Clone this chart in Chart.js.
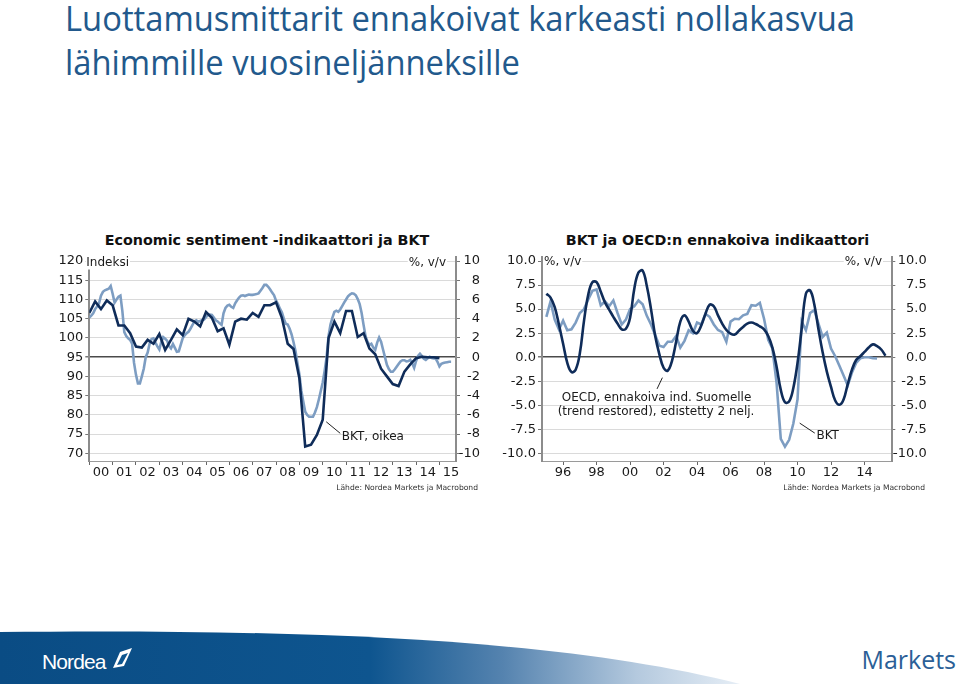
<!DOCTYPE html>
<html>
<head>
<meta charset="utf-8">
<script src="https://cdn.jsdelivr.net/npm/chart.js@4.4.1/dist/chart.umd.min.js"></script>
<style>
  body { margin:0; width:960px; height:684px; position:relative; background:#fff; overflow:hidden; font-family:"DejaVu Sans", sans-serif; }
  #title { position:absolute; left:65px; top:-4px; font-family:"Open Sans", sans-serif; font-size:34px; line-height:44px; color:#22598c; transform-origin:0 0; white-space:nowrap; }
  #title span { display:inline-block; }
  .ctitle { position:absolute; top:231px; font-weight:bold; font-size:14.3px; line-height:18px; color:#111; text-align:center; }
  .src { position:absolute; top:483px; font-size:7.6px; color:#333; white-space:nowrap; }
  canvas { position:absolute; top:225px; }
  #foot { position:absolute; left:0; top:628px; }
  #markets { position:absolute; right:4px; top:642px; font-family:"Open Sans", sans-serif; font-size:25px; color:#2b5f97; }
</style>
</head>
<body>
<div id="title"><span id="t1">Luottamusmittarit ennakoivat karkeasti nollakasvua</span><br><span>lähimmille vuosineljänneksille</span></div>

<div class="ctitle" style="left:40px;width:454px">Economic sentiment -indikaattori ja BKT</div>
<canvas id="c1" width="450" height="275" style="left:40px"></canvas>
<div class="src" style="right:482px">Lähde: Nordea Markets ja Macrobond</div>

<div class="ctitle" style="left:495px;width:445px">BKT ja OECD:n ennakoiva indikaattori</div>
<canvas id="c2" width="445" height="275" style="left:495px"></canvas>
<div class="src" style="right:35px">Lähde: Nordea Markets ja Macrobond</div>

<svg id="foot" width="960" height="56">
  <defs>
    <linearGradient id="band" x1="0" x2="1" y1="0" y2="0">
      <stop offset="0" stop-color="#0a4c84"/>
      <stop offset="0.5" stop-color="#0e558f"/>
      <stop offset="0.68" stop-color="#5583af"/>
      <stop offset="0.86" stop-color="#b4c9de"/>
      <stop offset="1" stop-color="#e6eef6"/>
    </linearGradient>
  </defs>
  <path d="M0,4 C300,1 560,10 740,56 L0,56 Z" fill="url(#band)"/>
  <text x="42" y="41" font-family="Liberation Sans" font-size="21" fill="#fff" letter-spacing="-0.9">Nordea</text>
  <path d="M113,40 L120,24 L132,20 L124,38 Z" fill="#fff"/>
  <path d="M117,37 L122,27 L128,25 L122,36 Z" fill="#0e558f"/>
</svg>
<div id="markets">Markets</div>

<script>
// Economic sentiment (indeksi), kuukausittain 2000/01 - 2015/07
const esiValues = [
  105.3,105.8,106.4,107.5,108.2,109.0,111.0,112.0,112.4,112.6,112.8,113.5,
  111.5,109.2,110.0,110.7,111.0,107.0,101.5,100.5,99.9,99.5,98.5,93.5,
  90.4,88.2,88.2,90.0,92.0,95.0,96.2,98.5,99.7,99.9,98.8,97.8,
  97.0,99.0,100.2,99.8,99.3,97.9,97.3,98.4,97.4,96.4,96.5,98.2,
  99.9,100.7,101.2,101.6,102.4,103.3,104.3,104.6,104.2,104.4,104.7,104.8,
  105.4,106.0,106.1,106.0,105.3,104.6,104.3,103.8,103.4,106.4,107.8,108.4,
  108.6,108.1,107.8,109.0,109.8,110.5,111.0,111.1,110.9,111.1,111.3,111.2,
  111.2,111.3,111.4,111.6,112.3,113.0,113.8,113.8,113.3,112.6,111.8,111.1,
  109.7,108.8,107.6,106.7,105.0,103.7,103.5,102.4,100.9,98.9,96.6,93.5,
  90.6,86.3,83.5,80.8,80.0,79.5,79.5,79.5,80.6,82.0,84.0,86.2,
  88.4,91.5,95.0,100.5,103.5,105.3,106.8,107.1,106.8,107.4,108.3,109.2,
  110.0,110.8,111.3,111.6,111.5,111.1,110.1,108.8,106.5,103.4,100.5,99.0,
  98.2,98.5,97.5,96.9,98.8,100.1,99.0,97.0,95.0,93.0,91.9,91.2,
  91.2,91.8,92.5,93.2,93.9,94.2,94.2,93.9,94.0,94.3,93.4,92.2,
  94.0,95.3,95.9,95.3,94.6,94.3,94.7,95.1,94.8,94.7,94.7,93.8,
  92.6,93.3,93.5,93.6,93.7,93.8,93.8
];
const esiStartYear = 2000;

// BKT %, v/v (oikea akseli), neljännesvuosittain 2000Q1 - 2015Q1
const bkt1Values = [
  4.6,5.8,5.0,5.9, 5.4,3.3,3.3,2.5, 1.1,1.0,1.8,1.4, 2.4,0.75,1.8,2.9,
  2.3,4.0,3.7,3.2, 4.7,4.1,2.7,3.0, 1.3,3.7,4.0,3.9, 4.6,4.2,5.4,5.4,
  5.7,4.1,1.4,0.85, -2.2,-9.3,-9.1,-8.1, -6.5,2.0,3.7,2.5, 4.8,4.8,2.1,2.5,
  0.9,0.3,-1.2,-2.0, -2.8,-3.0,-1.5,-0.75, -0.1,0.05,0.0,0.0, -0.1
];
const bkt1StartYear = 2000;

// OECD ennakoiva indikaattori (edistetty 2 nelj.), 1995Q1 - 2015Q2
const oecdValues = [
  6.6,6.2,5.2,3.4, 1.4,-0.6,-1.55,-1.3, 0.4,3.8,6.5,7.8, 7.8,6.8,5.7,4.95,
  4.2,3.5,2.9,2.95, 4.1,7.1,8.8,9.0, 7.4,5.0,2.2,0.3, -1.1,-1.4,-0.4,1.6,
  3.7,4.35,3.7,2.75, 2.5,3.3,4.5,5.45, 5.3,4.35,3.5,2.83, 2.45,2.35,2.75,3.15,
  3.5,3.6,3.45,3.2, 2.9,2.2,1.0,-1.0, -3.4,-4.7,-4.6,-3.2, -0.6,3.0,6.6,6.95,
  5.5,2.9,0.5,-1.5, -3.1,-4.5,-4.95,-4.4, -2.8,-1.3,-0.3,0.1, 0.55,1.0,1.33,1.15,
  0.8,0.15
];
// BKT %, v/v, 1995Q1 - 2014Q4
const bkt2Values = [
  4.2,5.8,3.9,2.9, 3.8,2.8,2.9,3.6, 4.6,5.0,6.0,6.9, 7.05,5.4,5.8,5.3,
  5.9,4.6,3.4,3.9, 5.0,5.3,5.9,5.5, 4.3,3.4,2.3,1.2, 1.05,1.6,1.6,2.2,
  1.0,1.7,2.8,2.5, 3.6,3.4,4.5,4.2, 3.4,2.83,2.6,1.6, 3.7,4.0,3.95,4.35,
  4.5,5.4,5.35,5.65, 4.0,1.8,0.9,-2.7, -8.5,-9.3,-8.6,-6.9, -4.4,3.7,2.8,4.6,
  4.9,3.5,2.1,2.55, 0.9,0.1,-0.9,-1.9, -2.95,-1.6,-0.6,-0.12, 0.0,0.0,-0.1,-0.12
];
const chart2StartYear = 1995;

// akselit
const chart1Years = [2000,2001,2002,2003,2004,2005,2006,2007,2008,2009,2010,2011,2012,2013,2014,2015];
const chart1Labels = ['00','01','02','03','04','05','06','07','08','09','10','11','12','13','14','15'];
const esiTicks = [70,75,80,85,90,95,100,105,110,115,120];
const bkt1Ticks = [-10,-8,-6,-4,-2,0,2,4,6,8,10];
const chart2Years = [1996,1998,2000,2002,2004,2006,2008,2010,2012,2014];
const chart2Labels = ['96','98','00','02','04','06','08','10','12','14'];
const pctTicks = [-10,-7.5,-5,-2.5,0,2.5,5,7.5,10];

const darkBlue = '#0f2c59';
const lightBlue = '#7d9dc2';

Chart.defaults.font.family = '"DejaVu Sans", sans-serif';
Chart.defaults.font.size = 13;
Chart.defaults.color = '#1a1a1a';

const esiData = esiValues.map((v, i) => ({ x: esiStartYear + i / 12, y: v }));
const bkt1Data = bkt1Values.map((v, i) => ({ x: bkt1StartYear + i / 4, y: v }));
const oecdData = oecdValues.map((v, i) => ({ x: chart2StartYear + i / 4, y: v }));
const bkt2Data = bkt2Values.map((v, i) => ({ x: chart2StartYear + i / 4, y: v }));

// tekstit ja viivat kuvan sisällä
const notesPlugin = {
  id: 'notes',
  afterDraw(chart, args, opts) {
    const { ctx, chartArea: a } = chart;
    const xs = chart.scales.x, ys = chart.scales[opts.yScale];
    ctx.save();
    ctx.font = '12px "DejaVu Sans"';
    ctx.textBaseline = 'middle';
    (opts.corner || []).forEach(c => {
      const w = ctx.measureText(c.text).width;
      const x = c.side === 'left' ? a.left + c.dx : a.right + c.dx - w;
      ctx.fillStyle = '#fff';
      ctx.fillRect(x - 1, a.top + c.dy - 7, w + 2, 14);
      ctx.fillStyle = '#1a1a1a';
      ctx.textAlign = 'left';
      ctx.fillText(c.text, x, a.top + c.dy);
    });
    ctx.strokeStyle = '#222';
    ctx.lineWidth = 1;
    (opts.lines || []).forEach(l => {
      ctx.beginPath();
      ctx.moveTo(xs.getPixelForValue(l[0]), ys.getPixelForValue(l[1]));
      ctx.lineTo(xs.getPixelForValue(l[2]), ys.getPixelForValue(l[3]));
      ctx.stroke();
    });
    ctx.fillStyle = '#1a1a1a';
    (opts.texts || []).forEach(t => {
      ctx.textAlign = t.align;
      ctx.fillText(t.text, xs.getPixelForValue(t.x), ys.getPixelForValue(t.y));
    });
    ctx.restore();
  }
};

function fixed(w) { return s => { s.width = w; }; }

new Chart(document.getElementById('c1'), {
  type: 'line',
  data: {
    datasets: [
      { label: 'BKT', data: bkt1Data, yAxisID: 'y1', borderColor: darkBlue, borderWidth: 2.6, pointRadius: 0, tension: 0, order: 0 },
      { label: 'Economic sentiment', data: esiData, yAxisID: 'y', borderColor: lightBlue, borderWidth: 2.6, pointRadius: 0, tension: 0, order: 1 }
    ]
  },
  options: {
    responsive: false,
    devicePixelRatio: 1,
    animation: false,
    layout: { padding: { top: 32.2, right: 10, left: 0, bottom: 0 } },
    plugins: {
      legend: { display: false },
      tooltip: { enabled: false },
      notes: {
        yScale: 'y',
        corner: [
          { text: 'Indeksi', side: 'left', dx: -3, dy: 5.3 },
          { text: '%, v/v', side: 'right', dx: -10, dy: 5.3 }
        ],
        lines: [[2010.15, 78.2, 2010.75, 75.2]],
        texts: [{ text: 'BKT, oikea', x: 2010.82, y: 74.3, align: 'left' }]
      }
    },
    scales: {
      x: {
        type: 'linear', min: 2000, max: 2015.71,
        afterBuildTicks: s => { s.ticks = chart1Years.map(v => ({ value: v })); },
        afterFit: s => { s.height = 39; },
        ticks: { autoSkip: false, maxRotation: 0, padding: 0, labelOffset: 11.6, callback: v => chart1Labels[chart1Years.indexOf(v)] },
        grid: { drawOnChartArea: false, tickLength: 4, tickColor: '#666' },
        border: { display: true, color: '#9a9a9a', width: 1 }
      },
      y: {
        position: 'left', min: 68, max: 121,
        afterBuildTicks: s => { s.ticks = esiTicks.map(v => ({ value: v })); },
        afterFit: fixed(49.3),
        ticks: { padding: 2, callback: v => String(v) },
        grid: {
          color: c => c.tick && c.tick.value === 95 ? '#4a4a4a' : '#dadada',
          lineWidth: c => c.tick && c.tick.value === 95 ? 1.5 : 1,
          tickColor: '#777', tickLength: 4
        },
        border: { display: true, color: '#8c8c8c', width: 2 }
      },
      y1: {
        position: 'right', min: -10.8, max: 10.4,
        afterBuildTicks: s => { s.ticks = bkt1Ticks.map(v => ({ value: v })); },
        afterFit: fixed(24),
        ticks: { padding: 1, crossAlign: 'far', callback: v => String(v) },
        grid: { drawOnChartArea: false, tickColor: '#777', tickLength: 4 },
        border: { display: true, color: '#8c8c8c', width: 2 }
      }
    }
  },
  plugins: [notesPlugin]
});

new Chart(document.getElementById('c2'), {
  type: 'line',
  data: {
    datasets: [
      { label: 'OECD, ennakoiva ind.', data: oecdData, borderColor: darkBlue, borderWidth: 2.6, pointRadius: 0, tension: 0.4, order: 0 },
      { label: 'BKT', data: bkt2Data, borderColor: lightBlue, borderWidth: 2.6, pointRadius: 0, tension: 0, order: 1 }
    ]
  },
  options: {
    responsive: false,
    devicePixelRatio: 1,
    animation: false,
    layout: { padding: { top: 32.2, right: 13.3, left: 0, bottom: 0 } },
    plugins: {
      legend: { display: false },
      tooltip: { enabled: false },
      notes: {
        yScale: 'y',
        corner: [
          { text: '%, v/v', side: 'left', dx: 2, dy: 4.8 },
          { text: '%, v/v', side: 'right', dx: -10.3, dy: 4.8 }
        ],
        lines: [[2001.61, -3.3, 2001.93, -2.13], [2010.13, -6.86, 2011.03, -7.9]],
        texts: [
          { text: 'OECD, ennakoiva ind. Suomelle', x: 2001.58, y: -4.27, align: 'center' },
          { text: '(trend restored), edistetty 2 nelj.', x: 2001.55, y: -5.66, align: 'center' },
          { text: 'BKT', x: 2011.13, y: -8.15, align: 'left' }
        ]
      }
    },
    scales: {
      x: {
        type: 'linear', min: 1994.74, max: 2015.66,
        afterBuildTicks: s => { s.ticks = chart2Years.map(v => ({ value: v })); },
        afterFit: s => { s.height = 39; },
        ticks: { autoSkip: false, maxRotation: 0, padding: 0, callback: v => chart2Labels[chart2Years.indexOf(v)] },
        grid: { drawOnChartArea: false, tickLength: 4, tickColor: '#666' },
        border: { display: true, color: '#9a9a9a', width: 1 }
      },
      y: {
        position: 'left', min: -10.8, max: 10.4,
        afterBuildTicks: s => { s.ticks = pctTicks.map(v => ({ value: v })); },
        afterFit: fixed(47),
        ticks: { padding: 2, callback: v => v.toFixed(1) },
        grid: {
          color: c => c.tick && c.tick.value === 0 ? '#4a4a4a' : '#dadada',
          lineWidth: c => c.tick && c.tick.value === 0 ? 1.5 : 1,
          tickColor: '#777', tickLength: 4
        },
        border: { display: true, color: '#8c8c8c', width: 2 }
      },
      y1: {
        position: 'right', min: -10.8, max: 10.4,
        afterBuildTicks: s => { s.ticks = pctTicks.map(v => ({ value: v })); },
        afterFit: fixed(34.4),
        ticks: { padding: 0, crossAlign: 'far', callback: v => v.toFixed(1) },
        grid: { drawOnChartArea: false, tickColor: '#777', tickLength: 3 },
        border: { display: true, color: '#8c8c8c', width: 2 }
      }
    }
  },
  plugins: [notesPlugin]
});

// otsikon leveys kuten alkuperäisessä
const t1w = document.getElementById('t1').getBoundingClientRect().width;
document.getElementById('title').style.transform = 'scaleX(' + (790 / t1w) + ')';
</script>
</body>
</html>
